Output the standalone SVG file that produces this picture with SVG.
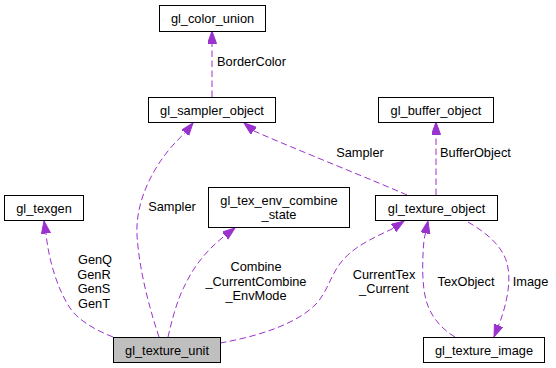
<svg xmlns="http://www.w3.org/2000/svg" width="556" height="368" viewBox="0 0 556 368">
  <style>
    .box { fill: #ffffff; stroke: #000000; stroke-width: 1; }
    .focus { fill: #bfbfbf; }
    .label { font-family: "Liberation Sans", Helvetica, Arial, sans-serif; font-size: 12.8px; fill: #000000; }
    .mid { text-anchor: middle; }
    .edge { fill: none; stroke: #9a32cd; stroke-width: 1; stroke-dasharray: 6.5,3.5; marker-end: url(#arrow); }
  </style>
  <defs>
    <marker id="arrow" markerUnits="userSpaceOnUse" markerWidth="13" markerHeight="10" refX="12.5" refY="4.5" orient="auto">
      <path d="M0,0 L12.5,4.5 L0,9 z" fill="#9a32cd" stroke="#9a32cd" stroke-width="1"/>
    </marker>
  </defs>
  <rect width="556" height="368" fill="#ffffff"/>

  <g id="connectors">
    <!-- gl_sampler_object -> gl_color_union -->
    <path class="edge" d="M212,97 L212,31"/>
    <text class="label" x="217" y="66">BorderColor</text>

    <!-- gl_texture_object -> gl_sampler_object -->
    <path class="edge" d="M407,195 C380,183 290,147 254,131 L244,123"/>
    <text class="label mid" x="360" y="157">Sampler</text>

    <!-- gl_texture_object -> gl_buffer_object -->
    <path class="edge" d="M436,195 L436,122"/>
    <text class="label" x="440" y="157">BufferObject</text>

    <!-- gl_texture_unit -> gl_sampler_object -->
    <path class="edge" d="M159,337 C150,310 139,270 137,235 C135,200 155,160 185,133 L193,123"/>
    <text class="label mid" x="172" y="211">Sampler</text>

    <!-- gl_texture_unit -> gl_texgen -->
    <path class="edge" d="M113,337 C95,330 78,320 70,308 C58,290 49,262 46,234 L44,221"/>
    <text class="label mid" x="95" y="264">GenQ</text>
    <text class="label mid" x="94" y="278.5">GenR</text>
    <text class="label mid" x="94" y="293">GenS</text>
    <text class="label mid" x="94" y="307.5">GenT</text>

    <!-- gl_texture_unit -> gl_tex_env_combine_state -->
    <path class="edge" d="M168,337 C172,320 177,300 185,285 C193,268 205,252 222,238 L235,228"/>
    <text class="label mid" x="256" y="271">Combine</text>
    <text class="label mid" x="256" y="285.5">_CurrentCombine</text>
    <text class="label mid" x="256" y="300">_EnvMode</text>

    <!-- gl_texture_unit -> gl_texture_object -->
    <path class="edge" d="M220,343 C255,337 295,325 315,305 C330,290 330,270 350,253 C362,243 375,237 392,229 L404,221"/>
    <text class="label mid" x="384" y="279">CurrentTex</text>
    <text class="label mid" x="384" y="293">_Current</text>

    <!-- gl_texture_image -> gl_texture_object -->
    <path class="edge" d="M455,337 C440,328 430,315 426,300 C422,285 422,262 424,240 L428,221"/>
    <text class="label mid" x="466" y="286">TexObject</text>

    <!-- gl_texture_object -> gl_texture_image -->
    <path class="edge" d="M468,222 C485,232 502,245 507,263 C512,282 506,305 500,322 L494,337"/>
    <text class="label mid" x="530.5" y="286">Image</text>
  </g>

  <g id="gl_color_union">
    <rect class="box" x="159.5" y="5.5" width="106" height="26"/>
    <text class="label mid" x="212.5" y="23">gl_color_union</text>
  </g>

  <g id="gl_sampler_object">
    <rect class="box" x="148.5" y="97.5" width="127" height="25"/>
    <text class="label mid" x="212" y="114.5">gl_sampler_object</text>
  </g>

  <g id="gl_buffer_object">
    <rect class="box" x="378.5" y="97.5" width="115" height="25"/>
    <text class="label mid" x="436" y="114.5">gl_buffer_object</text>
  </g>

  <g id="gl_texgen">
    <rect class="box" x="4.5" y="195.5" width="79" height="25"/>
    <text class="label mid" x="44" y="212.5">gl_texgen</text>
  </g>

  <g id="gl_tex_env_combine_state">
    <rect class="box" x="208.5" y="187.5" width="141" height="40"/>
    <text class="label mid" x="279" y="204.5">gl_tex_env_combine</text>
    <text class="label mid" x="279" y="218.5">_state</text>
  </g>

  <g id="gl_texture_object">
    <rect class="box" x="375.5" y="195.5" width="122" height="25"/>
    <text class="label mid" x="436.5" y="212.5">gl_texture_object</text>
  </g>

  <g id="gl_texture_unit">
    <rect class="box focus" x="113.5" y="337.5" width="107" height="25"/>
    <text class="label mid" x="167" y="354.5">gl_texture_unit</text>
  </g>

  <g id="gl_texture_image">
    <rect class="box" x="423.5" y="337.5" width="121" height="25"/>
    <text class="label mid" x="484" y="354.5">gl_texture_image</text>
  </g>
</svg>
